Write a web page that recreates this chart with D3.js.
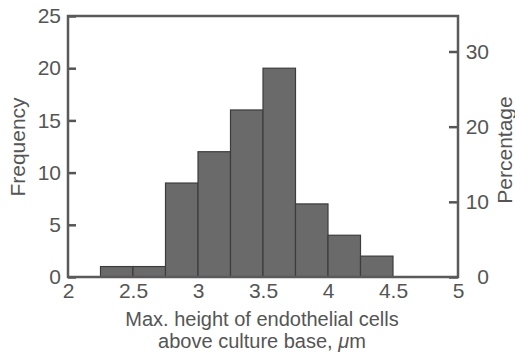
<!DOCTYPE html>
<html>
<head>
<meta charset="utf-8">
<script src="https://cdn.jsdelivr.net/npm/d3@7"></script>
<style>
  body { margin: 0; background: #fff; }
  text { font-family: "Liberation Sans", Arial, sans-serif; fill: #555; }
</style>
</head>
<body>
<div id="chart"></div>
<script>
// histogram bins (lower edge, um) and counts
var binStarts = [2.25, 2.5, 2.75, 3.0, 3.25, 3.5, 3.75, 4.0, 4.25];
var binWidth = 0.25;
var counts = [1, 1, 9, 12, 16, 20, 7, 4, 2];
var xTicks = [2, 2.5, 3, 3.5, 4, 4.5, 5];
var freqTicks = [0, 5, 10, 15, 20, 25];
var pctTicks = [0, 10, 20, 30];

var w = 515, h = 353;
var margin = {top: 16, right: 57, bottom: 76, left: 68};
var total = d3.sum(counts);

var svg = d3.select("#chart").append("svg")
    .attr("width", w)
    .attr("height", h);

var x = d3.scaleLinear().domain([2, 5]).range([margin.left, w - margin.right]);
var y = d3.scaleLinear().domain([0, 25]).range([h - margin.bottom, margin.top]);
var yPct = d3.scaleLinear().domain([0, 25 / total * 100]).range([h - margin.bottom, margin.top]);

var data = binStarts.map(function(d, i) { return {x0: d, x1: d + binWidth, n: counts[i]}; });

// bars
svg.append("g").selectAll("rect")
    .data(data)
    .enter()
    .append("rect")
    .attr("x", function(d) { return x(d.x0); })
    .attr("y", function(d) { return y(d.n); })
    .attr("width", function(d) { return x(d.x1) - x(d.x0); })
    .attr("height", function(d) { return y(0) - y(d.n); })
    .attr("fill", "#6a6a6a")
    .attr("stroke", "#3c3c3c")
    .attr("stroke-width", 1.2);

// axes
var fontSize = "21px";

svg.append("g")
    .attr("transform", "translate(" + margin.left + ",0)")
    .call(d3.axisLeft(y).tickValues(freqTicks).tickSize(-8).tickPadding(7))
    .call(function(g) { g.select(".domain").remove(); })
    .call(function(g) {
      g.selectAll("line").attr("stroke", "#555").attr("stroke-width", 2.5);
      g.selectAll("text").style("font-size", fontSize).attr("fill", "#555");
    });

svg.append("g")
    .attr("transform", "translate(" + (w - margin.right) + ",0)")
    .call(d3.axisRight(yPct).tickValues(pctTicks).tickSize(-9).tickPadding(6))
    .call(function(g) { g.select(".domain").remove(); })
    .call(function(g) {
      g.selectAll("line").attr("stroke", "#555").attr("stroke-width", 2.5);
      g.selectAll("text").style("font-size", fontSize).attr("fill", "#555")
        .attr("text-anchor", "end").attr("x", 31);
    });

svg.append("g")
    .attr("transform", "translate(0," + (h - margin.bottom) + ")")
    .call(d3.axisBottom(x).tickValues(xTicks).tickSize(0).tickPadding(6).tickFormat(d3.format("")))
    .call(function(g) { g.select(".domain").remove(); })
    .call(function(g) {
      g.selectAll("text").style("font-size", fontSize).attr("fill", "#555");
    });

// frame
svg.append("rect")
    .attr("x", margin.left)
    .attr("y", margin.top)
    .attr("width", w - margin.left - margin.right)
    .attr("height", h - margin.top - margin.bottom)
    .attr("fill", "none")
    .attr("stroke", "#5a5a5a")
    .attr("stroke-width", 2.5);

// axis titles
svg.append("text")
    .attr("transform", "translate(25,147) rotate(-90)")
    .attr("text-anchor", "middle")
    .style("font-size", fontSize)
    .text("Frequency");

svg.append("text")
    .attr("transform", "translate(512,150) rotate(-90)")
    .attr("text-anchor", "middle")
    .style("font-size", fontSize)
    .text("Percentage");

var xTitle1 = svg.append("text")
    .attr("x", 262).attr("y", 326)
    .attr("text-anchor", "middle")
    .style("font-size", "20px")
    .text("Max. height of endothelial cells");

var xTitle2 = svg.append("text")
    .attr("x", 262).attr("y", 348)
    .attr("text-anchor", "middle")
    .style("font-size", "20px");
xTitle2.append("tspan").text("above culture base, ");
xTitle2.append("tspan").style("font-style", "italic").text("\u03bc");
xTitle2.append("tspan").text("m");
</script>
</body>
</html>
